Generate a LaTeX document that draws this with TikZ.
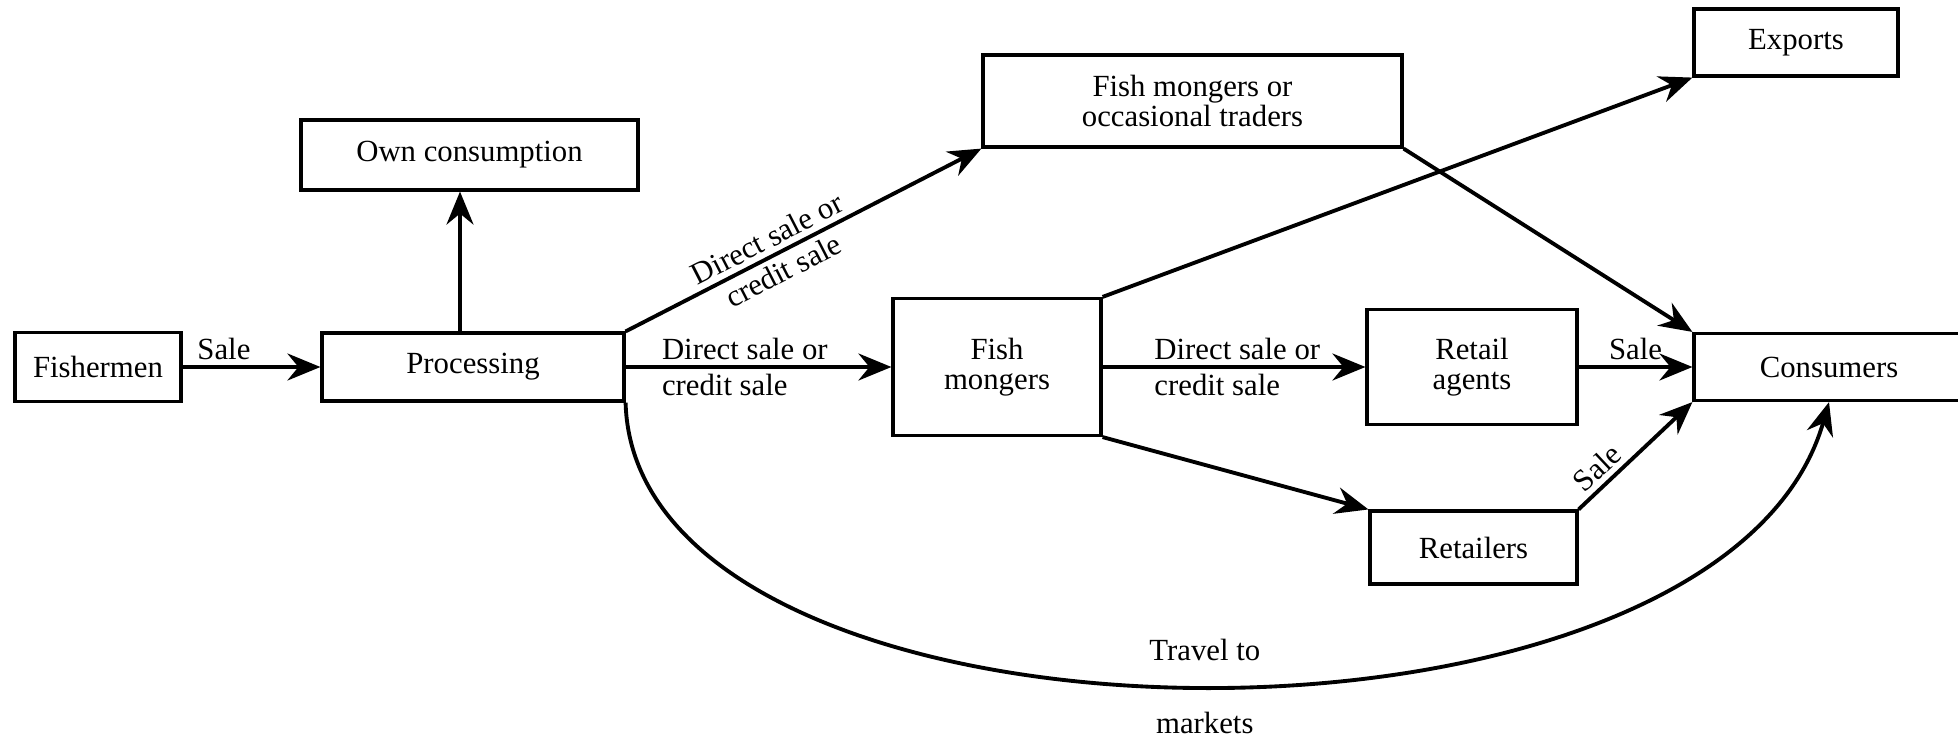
\documentclass[tikz,border=0pt]{standalone}
\usepackage{fontspec}
\setmainfont{Liberation Serif}
\usetikzlibrary{arrows.meta}

\begin{document}
\begin{tikzpicture}[
    x=0.1mm, y=-0.1mm,
    every node/.style={font=\fontsize{8.75}{8.4}\selectfont},
    box/.style={draw, line width=0.9pt, align=center, inner sep=2pt},
    arrow/.style={-{Stealth[length=3.3mm, width=2.7mm, inset=1.1mm]}, line width=1.1pt},
    lbl/.style={inner sep=1.5pt}
]
    \clip (0,0) rectangle (1958,744);

    \node[box, minimum width=16.6mm, minimum height=6.9mm] (fisher) at (98,367) {Fishermen};
    \node[box, minimum width=30.2mm, minimum height=6.8mm] (proc) at (473,367) {Processing};
    \node[box, minimum width=33.7mm, minimum height=7.0mm] (own) at (469.5,155) {Own consumption};
    \node[box, minimum width=41.9mm, minimum height=9.2mm] (fmot) at (1192.5,101)
        {Fish mongers or\\occasional traders};
    \node[box, minimum width=20.4mm, minimum height=6.7mm] (exports) at (1796,42.5) {Exports};
    \node[box, minimum width=20.8mm, minimum height=13.7mm] (fmong) at (997,367) {Fish\\mongers};
    \node[box, minimum width=21.0mm, minimum height=11.5mm] (ragent) at (1472,367) {Retail\\agents};
    \node[box, minimum width=27.0mm, minimum height=6.7mm] (cons) at (1829,367) {Consumers};
    \node[box, minimum width=20.7mm, minimum height=7.3mm] (retail) at (1473.5,547.5) {Retailers};

    \coordinate (up) at ([xshift=-1.3mm]proc.north);

    \draw[arrow] (fisher) -- node[lbl, above, pos=0.3]{Sale} (proc);
    \draw[arrow] (up) -- (up |- own.south);
    \draw[arrow] (proc.north east) -- node[lbl, sloped, above, pos=0.42]{Direct sale or}
        node[lbl, sloped, below, pos=0.42]{credit sale} (fmot.south west);
    \draw[arrow] (proc) -- node[lbl, above right, pos=0.11]{Direct sale or}
        node[lbl, below right, pos=0.11]{credit sale} (fmong);
    \draw[arrow] (fmong.north east) -- (exports.south west);
    \draw[arrow] (fmong) -- node[lbl, above right, pos=0.17]{Direct sale or}
        node[lbl, below right, pos=0.17]{credit sale} (ragent);
    \draw[arrow] (fmong.south east) -- (retail.north west);
    \draw[arrow] (fmot.south east) -- (cons.north west);
    \draw[arrow] (ragent) -- node[lbl, above]{Sale} (cons);
    \draw[arrow] (retail.north east) -- node[lbl, sloped, above, pos=0.27]{Sale} (cons.south west);
    \draw[arrow] (proc.south east) .. controls +(10,370) and +(-110,385) .. (cons.south)
        node[lbl, pos=0.5, above=1.7mm, xshift=1.5mm]{Travel to}
        node[lbl, pos=0.5, below=1.9mm, xshift=1.5mm]{markets};
\end{tikzpicture}
\end{document}
